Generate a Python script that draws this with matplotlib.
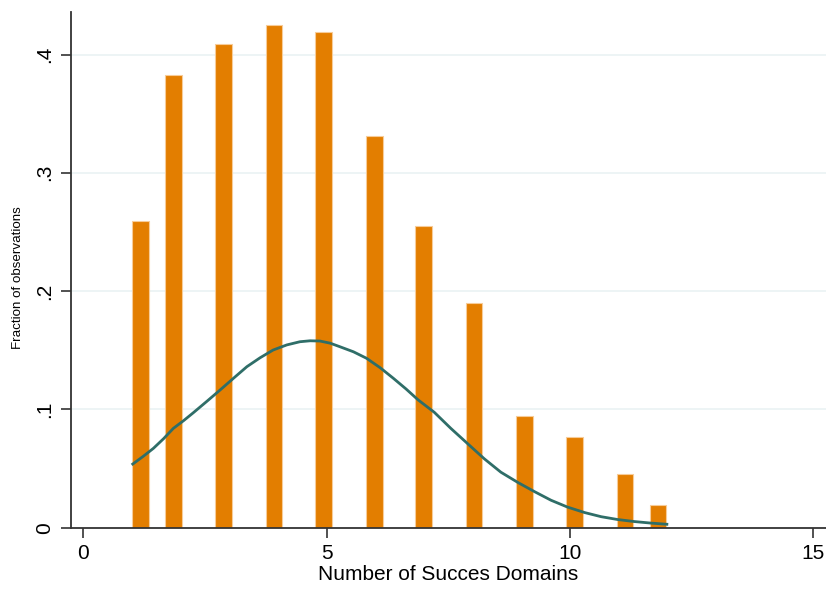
import matplotlib
matplotlib.use('Agg')
import matplotlib.pyplot as plt

# bar centres and heights
bar_x = [1.17, 1.85, 2.88, 3.92, 4.94, 5.98, 6.99, 8.03, 9.06, 10.09, 11.13, 11.81]
bar_h = [0.259, 0.383, 0.409, 0.425, 0.419, 0.331, 0.255, 0.190, 0.0945, 0.0768, 0.0458, 0.0193]

# overlaid normal curve
curve_x = [1.015, 1.23, 1.44, 1.65, 1.85, 2.06, 2.26, 2.54, 2.81, 3.09, 3.36, 3.63,
           3.90, 4.18, 4.45, 4.66, 4.86, 5.07, 5.27, 5.55, 5.82, 6.10, 6.37, 6.63,
           6.88, 7.21, 7.55, 7.90, 8.24, 8.58, 8.93, 9.27, 9.61, 9.95, 10.30, 10.64,
           10.98, 11.32, 11.66, 11.99]
curve_y = [0.0538, 0.0603, 0.0671, 0.0753, 0.0840, 0.0905, 0.0972, 0.1069, 0.1164,
           0.1265, 0.1361, 0.1436, 0.1502, 0.1545, 0.1572, 0.1580, 0.1578, 0.1560,
           0.1530, 0.1487, 0.1432, 0.1352, 0.1263, 0.1173, 0.1080, 0.0976, 0.0840,
           0.0709, 0.0582, 0.0469, 0.0382, 0.0305, 0.0232, 0.0174, 0.0128, 0.0093,
           0.0069, 0.0052, 0.0039, 0.0029]

x_ticks = [0, 5, 10, 15]
y_ticks = [0, 0.1, 0.2, 0.3, 0.4]
y_labels = ['0', '.1', '.2', '.3', '.4']

plt.rcParams['font.family'] = ['Liberation Sans', 'DejaVu Sans']

fig = plt.figure(figsize=(8.26, 5.96), dpi=100)
ax = fig.add_axes([0.086, 0.1146, 0.914, 0.8654])

for y in y_ticks[1:]:
    ax.axhline(y, color='#eaf2f3', lw=1.2, zorder=0)

ax.bar(bar_x, bar_h, width=0.34, color='#e37e00', edgecolor='#f7cc99', linewidth=0.8, zorder=2)
ax.plot(curve_x, curve_y, color='#2f6e68', lw=2.0, zorder=3)

ax.set_xlim(-0.253, 15.26)
ax.set_ylim(0, 0.436)

ax.set_xticks(x_ticks)
ax.set_xticklabels([str(t) for t in x_ticks], fontsize=15)
ax.set_yticks(y_ticks)
ax.set_yticklabels(y_labels, fontsize=15, rotation=90, va='center')

ax.tick_params(axis='both', direction='out', length=7, width=1.2, color='#333333', pad=5)

for s in ['top', 'right']:
    ax.spines[s].set_visible(False)
for s in ['left', 'bottom']:
    ax.spines[s].set_color('#333333')
    ax.spines[s].set_linewidth(1.3)

ax.set_xlabel('Number of Succes Domains', fontsize=15, labelpad=1)
ax.set_ylabel('Fraction of observations', fontsize=9.6)
ax.yaxis.set_label_coords(-0.062, 0.485)

fig.savefig('out.png', dpi=100)
